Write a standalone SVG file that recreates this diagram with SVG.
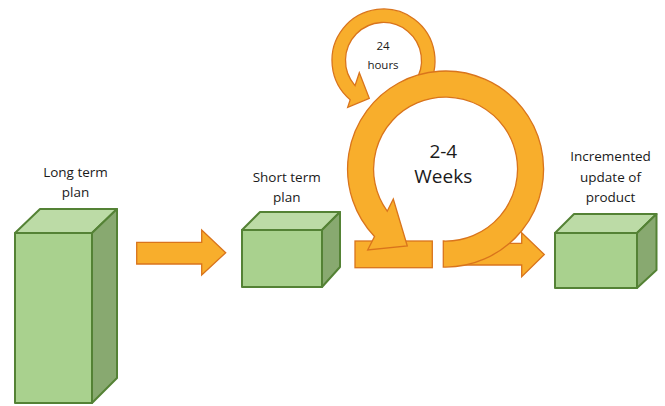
<svg xmlns="http://www.w3.org/2000/svg" width="665" height="406" viewBox="0 0 665 406">
  <style>
    .front { fill: #A9D18E; stroke: #548235; stroke-width: 2; stroke-linejoin: round; }
    .top { fill: #BCDBA6; stroke: #548235; stroke-width: 2; stroke-linejoin: round; }
    .side { fill: #88A970; stroke: #548235; stroke-width: 2; stroke-linejoin: round; }
    .orange { fill: #F8AE2C; stroke: #D9741C; stroke-width: 1.3; stroke-linejoin: miter; }
    .label { font-family: "Open Sans", "Noto Sans", "Liberation Sans", sans-serif; font-size: 13.5px; fill: #1a1a1a; text-anchor: middle; }
    .small { font-size: 11.5px; }
    .big { font-size: 19px; }
  </style>
  <rect width="665" height="406" fill="#ffffff"/>

  <!-- connectors: straight block arrows, sprint bar and cycle arrows -->
  <g id="connectors">
    <polygon class="orange" points="136.7,242.3 201.7,242.3 201.7,230 225.7,252.7 201.7,275 201.7,264 136.7,264"/>
    <polygon class="orange" points="455,243.3 521.7,243.3 521.7,232.7 544.3,254.5 521.7,276.7 521.7,265 455,265"/>
    <rect class="orange" x="355" y="241" width="77.3" height="26.7"/>
    <!-- daily cycle -->
    <path class="orange" d="M414.6,82.3 L425.7,90 A51.5 51.5 0 1 0 350.2,99.8 L347.7,107.3 L369.3,98.3 L359.3,72.7 L355,85.6 A38 38 0 1 1 414.6,82.3 Z"/>
    <!-- sprint cycle -->
    <path class="orange" d="M443.3,241 L443.3,267 A98 98 0 1 0 374.5,236.5 L367.7,250 L407.3,246 L393.3,199 L387.2,211.2 A72 72 0 1 1 443.3,241 Z"/>
  </g>

  <g id="long-term-plan">
    <polygon class="front" points="15,233 92,233 92,403 15,403"/>
    <polygon class="top" points="15,233 40,209 117,209 92,233"/>
    <polygon class="side" points="92,233 117,209 117,378 92,403"/>
    <text class="label" x="75.5" y="177">Long term</text>
    <text class="label" x="75.5" y="197">plan</text>
  </g>

  <g id="short-term-plan">
    <polygon class="front" points="242,230 322,230 322,287 242,287"/>
    <polygon class="top" points="242,230 260,212 340,212 322,230"/>
    <polygon class="side" points="322,230 340,212 340,267 322,287"/>
    <text class="label" x="286.7" y="181.5">Short term</text>
    <text class="label" x="286.7" y="201.5">plan</text>
  </g>

  <g id="increment">
    <polygon class="front" points="555,233 637,233 637,288 555,288"/>
    <polygon class="top" points="555,233 574,214 656.5,214 637,233"/>
    <polygon class="side" points="637,233 656.5,214 656.5,270 637,288"/>
    <text class="label" x="610.5" y="161">Incremented</text>
    <text class="label" x="610.5" y="181.5">update of</text>
    <text class="label" x="610.5" y="202">product</text>
  </g>

  <g id="daily-label">
    <text class="label small" x="383" y="50">24</text>
    <text class="label small" x="383" y="69">hours</text>
  </g>

  <g id="sprint-label">
    <text class="label big" x="443.3" y="157.5">2-4</text>
    <text class="label big" x="443.3" y="183.3">Weeks</text>
  </g>
</svg>
